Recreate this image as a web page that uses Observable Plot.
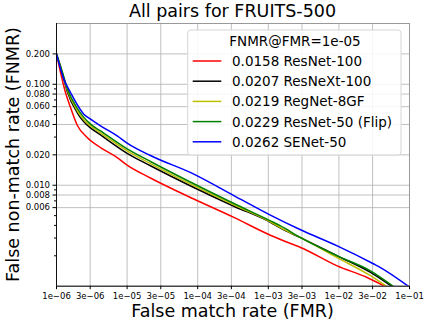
<!DOCTYPE html>
<html><head><meta charset="utf-8">
<script src="https://cdn.jsdelivr.net/npm/d3@7"></script>
<script src="https://cdn.jsdelivr.net/npm/@observablehq/plot@0.6"></script>
<style>body{margin:0;background:#fff} svg{display:block}</style>
</head><body><div id="chart"></div>
<script>
const fmrTicks = [1e-6,3e-6,1e-5,3e-5,1e-4,3e-4,1e-3,3e-3,1e-2,3e-2,1e-1];
const fmrTickLabels = ["1e\u221206","3e\u221206","1e\u221205","3e\u221205","1e\u221204","3e\u221204","1e\u221203","3e\u221203","1e\u221202","3e\u221202","1e\u221201"];
const fnmrTicks = [0.2,0.1,0.08,0.06,0.04,0.02,0.01,0.008,0.006];
const fnmrTickLabels = ["0.200","0.100","0.080","0.060","0.040","0.020","0.010","0.008","0.006"];
const fnmrMinor = [0.002,0.003,0.004,0.005,0.007,0.009,0.03,0.05,0.07,0.09];

const seriesNames = ["0.0158 ResNet-100","0.0207 ResNeXt-100","0.0219 RegNet-8GF","0.0229 ResNet-50 (Flip)","0.0262 SENet-50"];
const seriesColors = ["#ff0000","#000000","#bfbf00","#008000","#0000ff"];
const legendTitle = "FNMR@FMR=1e-05";

const resnet100 = [[1e-6,0.2],[1.15e-6,0.128],[1.34e-6,0.083],[1.58e-6,0.059],[1.96e-6,0.0395],[2.72e-6,0.0297],[4.2e-6,0.0236],[7.24e-6,0.0188],[1e-5,0.0158],[2.14e-5,0.0118],[8.8e-5,0.0073],[3.25e-4,0.0048],[1.07e-3,0.0032],[2.2e-3,0.0026],[2.86e-3,0.00242],[9.46e-3,0.00159],[2.51e-2,0.00122],[4.7e-2,0.00098]];
const resnext100 = [[1e-6,0.2],[1.2e-6,0.131],[1.42e-6,0.085],[1.96e-6,0.0525],[2.44e-6,0.0425],[3e-6,0.0372],[4.2e-6,0.0315],[1e-5,0.0207],[2.14e-5,0.0156],[3.25e-4,0.0062],[1.07e-3,0.0043],[1.49e-3,0.00376],[2.86e-3,0.00303],[9.46e-3,0.0020],[2.8e-2,0.00137],[5.8e-2,0.00098]];
const regnet8gf = [[1e-6,0.2],[1.2e-6,0.133],[1.42e-6,0.088],[1.96e-6,0.055],[2.44e-6,0.0445],[3e-6,0.0388],[4.2e-6,0.0330],[1e-5,0.0219],[2.14e-5,0.0164],[3.25e-4,0.0064],[1.07e-3,0.00435],[1.49e-3,0.0038],[2.86e-3,0.00303],[9.46e-3,0.00192],[2.8e-2,0.00127],[4.9e-2,0.00098]];
const resnet50flip = [[1e-6,0.2],[1.2e-6,0.135],[1.42e-6,0.091],[1.96e-6,0.058],[2.44e-6,0.047],[3e-6,0.0405],[4.2e-6,0.0345],[1e-5,0.0229],[2.14e-5,0.0172],[3.25e-4,0.0066],[1.07e-3,0.00444],[1.49e-3,0.00396],[2.86e-3,0.00303],[9.46e-3,0.0020],[2.8e-2,0.00142],[6.1e-2,0.00098]];
const senet50 = [[1e-6,0.2],[1.27e-6,0.1125],[1.58e-6,0.0828],[2.44e-6,0.0506],[3e-6,0.0455],[4.2e-6,0.0388],[7.24e-6,0.0308],[1e-5,0.0262],[2.14e-5,0.0197],[8.8e-5,0.0129],[3.25e-4,0.0079],[1.07e-3,0.00506],[2.86e-3,0.00362],[9.46e-3,0.00251],[3.12e-2,0.00166],[3.88e-2,0.00153],[1e-1,0.00098]];

const seriesData = [resnet100, resnext100, regnet8gf, resnet50flip, senet50];

const plot = Plot.plot({
  width: 424, height: 323,
  marginLeft: 56, marginRight: 15, marginTop: 23, marginBottom: 37.3,
  style: {fontFamily: "DejaVu Sans", fontSize: "8.5px", background: "white", color: "black"},
  x: {type: "log", domain: [1e-6, 1e-1]},
  y: {type: "log", domain: [0.001, 0.4]},
  marks: [
    Plot.ruleX(fmrTicks, {stroke: "#b0b0b0", strokeWidth: 0.8}),
    Plot.ruleY(fnmrTicks, {stroke: "#b0b0b0", strokeWidth: 0.8}),
    Plot.frame({stroke: "#999"}),
    ...seriesData.map((s, i) => Plot.line(s, {x: d => d[0], y: d => d[1], stroke: seriesColors[i], strokeWidth: 1.5, curve: "monotone-x", clip: true})),
    Plot.axisX({ticks: fmrTicks, text: d => fmrTickLabels[fmrTicks.indexOf(d)], tickSize: 3.5, tickPadding: 3, label: null}),
    Plot.axisY({ticks: fnmrTicks, text: d => fnmrTickLabels[fnmrTicks.indexOf(d)], tickSize: 3.5, tickPadding: 3, label: null}),
    Plot.axisY({ticks: fnmrMinor, text: () => "", tickSize: 2, label: null}),
    Plot.ruleX([1e-6], {stroke: "black", strokeWidth: 0.9}),
    Plot.ruleY([0.001], {stroke: "black", strokeWidth: 0.9})
  ]
});

const svg = d3.select(plot);
svg.append("text").attr("x", 232.5).attr("y", 17).attr("text-anchor", "middle")
  .style("font-size", "17.5px").attr("fill", "black").text("All pairs for FRUITS-500");
svg.append("text").attr("x", 232.5).attr("y", 317).attr("text-anchor", "middle")
  .style("font-size", "17.5px").attr("fill", "black").text("False match rate (FMR)");
svg.append("text").attr("transform", "translate(19,154.5) rotate(-90)").attr("text-anchor", "middle")
  .style("font-size", "17.5px").attr("fill", "black").text("False non-match rate (FNMR)");

const lg = svg.append("g");
lg.append("rect").attr("x", 187.7).attr("y", 30).attr("width", 213.3).attr("height", 125).attr("rx", 3)
  .attr("fill", "white").attr("fill-opacity", 0.85).attr("stroke", "#d6d6d6");
lg.append("text").attr("x", 295).attr("y", 46).attr("text-anchor", "middle")
  .style("font-size", "13.5px").attr("fill", "black").text(legendTitle);
seriesNames.forEach((name, i) => {
  const y = 61 + i * 20.2;
  lg.append("line").attr("x1", 192.7).attr("x2", 221.3).attr("y1", y).attr("y2", y)
    .attr("stroke", seriesColors[i]).attr("stroke-width", 1.5);
  lg.append("text").attr("x", 232).attr("y", y + 5).attr("text-anchor", "start").style("font-size", "13.5px")
    .attr("fill", "black").text(name);
});

document.getElementById("chart").appendChild(plot);
</script>
</body></html>
